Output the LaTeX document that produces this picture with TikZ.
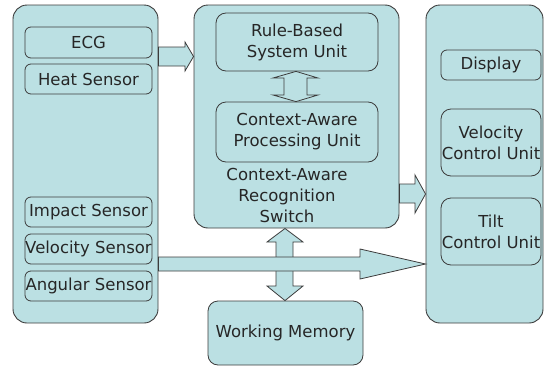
\documentclass[tikz,border=0pt]{standalone}
\usepackage{fontspec}
\setmainfont{DejaVu Sans}
\definecolor{panelblue}{RGB}{187,224,227}
\definecolor{edgegray}{RGB}{60,60,60}
\definecolor{inkgray}{RGB}{38,38,38}
\tikzset{
  >=latex,
  label font/.style={font=\fontsize{16.5}{21}\selectfont, text=inkgray},
  outerbox/.style={draw=edgegray, fill=panelblue, line width=0.9pt,
    rounded corners=14pt, inner sep=0pt},
  innerbox/.style={draw=edgegray, fill=panelblue, line width=0.8pt,
    rounded corners=6pt, inner sep=0pt, align=center, label font},
  blockarrow/.style={draw=edgegray, fill=panelblue, line width=0.8pt,
    line join=miter}
}

\begin{document}
\begin{tikzpicture}[x=1pt,y=-1pt]
  \useasboundingbox (0,0) rectangle (546,367);
  \node[outerbox, minimum width=145pt, minimum height=318pt] (sensors) at (85.5,164) {};
  \node[outerbox, minimum width=205pt, minimum height=223pt] (switch) at (296.5,116.5) {};
  \node[outerbox, minimum width=117pt, minimum height=318pt] (output) at (484.5,164) {};
  \node[innerbox, rounded corners=10pt, minimum width=155pt, minimum height=64pt]
    (memory) at (285.5,333) {Working Memory};

  \node[innerbox, minimum width=127pt, minimum height=31pt] (ecg) at (88.5,42.5) {ECG};
  \node[innerbox, minimum width=127pt, minimum height=30pt] (heat) at (88.5,79) {Heat Sensor};
  \node[innerbox, minimum width=127pt, minimum height=30pt] (impact) at (88.5,212) {Impact Sensor};
  \node[innerbox, minimum width=127pt, minimum height=30pt] (velsensor) at (88.5,249) {Velocity Sensor};
  \node[innerbox, minimum width=127pt, minimum height=30pt] (angular) at (88.5,286) {Angular Sensor};

  \node[innerbox, rounded corners=10pt, minimum width=162pt, minimum height=58pt]
    (rules) at (297,42) {Rule-Based\\System Unit};
  \node[innerbox, rounded corners=10pt, minimum width=162pt, minimum height=60pt]
    (context) at (297,132) {Context-Aware\\Processing Unit};
  \node[align=center, label font] (switchlabel) at (287,195.5)
    {Context-Aware\\Recognition\\Switch};

  \node[innerbox, minimum width=100pt, minimum height=30pt] (display) at (491,65) {Display};
  \node[innerbox, rounded corners=10pt, minimum width=100pt, minimum height=67pt]
    (velcontrol) at (491,142.5) {Velocity\\Control Unit};
  \node[innerbox, rounded corners=10pt, minimum width=100pt, minimum height=67pt]
    (tiltcontrol) at (491,231.5) {Tilt\\Control Unit};

  % sensors to switch, switch to output
  \draw[blockarrow] (sensors.east |- 0,47) -- (185,47) -- (185,42)
    -- (switch.west |- 0,56.5) -- (185,71) -- (185,66) -- (sensors.east |- 0,66) -- cycle;
  \draw[blockarrow] (switch.east |- 0,184) -- (415,184) -- (415,175)
    -- (output.west |- 0,194) -- (415,213) -- (415,203) -- (switch.east |- 0,203) -- cycle;

  % rule base <-> processing unit
  \draw[blockarrow] (284,78) -- (273,78) -- (rules.south -| 296,0) -- (318,78) -- (307,78)
    -- (307,95) -- (318,95) -- (context.north -| 296,0) -- (273,95) -- (284,95) -- cycle;

  % switch <-> working memory
  \draw[blockarrow] (276,242) -- (267,242) -- (switch.south -| 285,0) -- (303,242) -- (293,242)
    -- (293,286) -- (303,286) -- (memory.north -| 285,0) -- (267,286) -- (276,286) -- cycle;

  % motion sensors straight to output
  \draw[blockarrow] (sensors.east |- 0,257) -- (360,257) -- (360,249)
    -- (output.west |- 0,264) -- (360,279) -- (360,271) -- (sensors.east |- 0,271) -- cycle;
\end{tikzpicture}
\end{document}
